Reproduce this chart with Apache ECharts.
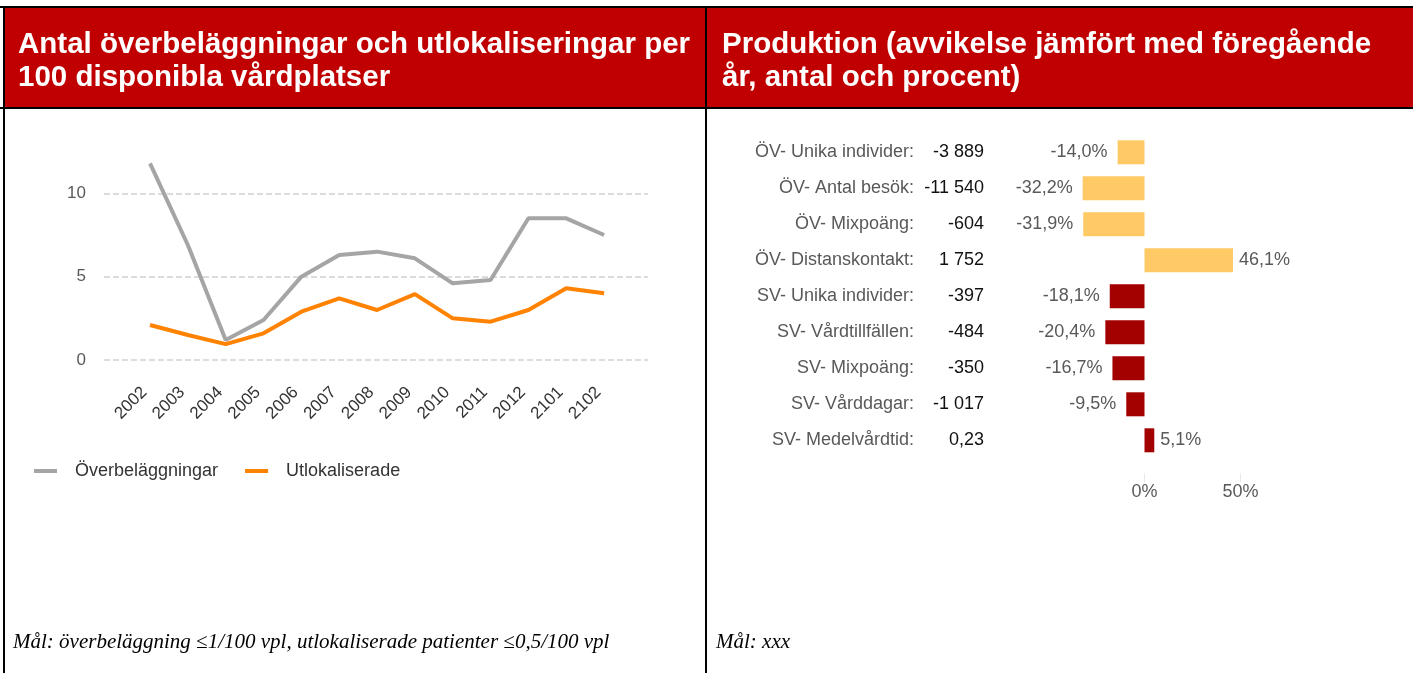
<!DOCTYPE html>
<html>
<head>
<meta charset="utf-8">
<script src="https://cdn.jsdelivr.net/npm/echarts@6/dist/echarts.min.js"></script>
<style>
  html, body { margin: 0; padding: 0; background: #fff; }
  #wrap { position: relative; width: 1413px; height: 673px; overflow: hidden; }
  #chart { position: absolute; left: 0; top: 0; width: 1413px; height: 673px; }
  .line { position: absolute; background: #000; }
  .head { position: absolute; top: 8px; height: 99px; background: #C00000; }
  .title { position: absolute; top: 26px; color: #fff; font: bold 29.5px/33px 'Liberation Sans', Arial, sans-serif; white-space: nowrap; }
  .note { position: absolute; top: 630px; font: italic 21px/22px 'Liberation Serif', 'Times New Roman', serif; color: #000; white-space: nowrap; }
</style>
</head>
<body>
<div id="wrap">
  <div id="chart"></div>
  <div class="head" style="left:5px;width:700px"></div>
  <div class="head" style="left:707px;width:706px"></div>
  <div class="line" style="left:0;top:6px;width:1413px;height:2px"></div>
  <div class="line" style="left:0;top:107px;width:1413px;height:2px"></div>
  <div class="line" style="left:3px;top:6px;width:2px;height:667px"></div>
  <div class="line" style="left:705px;top:6px;width:2px;height:667px"></div>
  <div class="title" style="left:18px">Antal överbeläggningar och utlokaliseringar per<br>100 disponibla vårdplatser</div>
  <div class="title" style="left:722px">Produktion (avvikelse jämfört med föregående<br>år, antal och procent)</div>
  <div class="note" style="left:13px">Mål: överbeläggning ≤1/100 vpl, utlokaliserade patienter ≤0,5/100 vpl</div>
  <div class="note" style="left:716px">Mål: xxx</div>
</div>
<script>
// vänster diagram
const years = ['2002', '2003', '2004', '2005', '2006', '2007', '2008', '2009', '2010', '2011', '2012', '2101', '2102']
const overbelaggningar = [11.8, 6.9, 1.2, 2.4, 5.0, 6.3, 6.5, 6.1, 4.6, 4.8, 8.5, 8.5, 7.5]
const utlokaliserade = [2.1, 1.5, 0.95, 1.6, 2.9, 3.7, 3.0, 3.95, 2.5, 2.3, 3.0, 4.3, 4.0]

// höger diagram
const kategorier = ['ÖV- Unika individer:', 'ÖV- Antal besök:', 'ÖV- Mixpoäng:', 'ÖV- Distanskontakt:',
  'SV- Unika individer:', 'SV- Vårdtillfällen:', 'SV- Mixpoäng:', 'SV- Vårddagar:', 'SV- Medelvårdtid:']
const antal = ['-3 889', '-11 540', '-604', '1 752', '-397', '-484', '-350', '-1 017', '0,23']
const procent = [-14.0, -32.2, -31.9, 46.1, -18.1, -20.4, -16.7, -9.5, 5.1]
const pctTicks = [0, 50]

const font = "'Liberation Sans', Arial, sans-serif"
const grey = '#595959'

let myChart = echarts.init(document.getElementById('chart'))

const idx = years.map((y, i) => i)
const toPts = arr => arr.map((v, i) => [i, v])

const barData = procent.map((v, i) => ({
  value: v,
  itemStyle: { color: kategorier[i].startsWith('ÖV') ? '#FFCA66' : '#A30000' },
  label: { position: v < 0 ? 'left' : 'right', distance: v < 0 ? 10 : 6 }
}))

const option = {
  animation: false,
  textStyle: { fontFamily: font },
  legend: {
    left: 29, top: 457,
    itemWidth: 23, itemHeight: 4, itemGap: 27,
    icon: 'rect',
    data: ['Överbeläggningar', 'Utlokaliserade'],
    textStyle: { fontSize: 18, color: '#333', fontFamily: font, padding: [0, 0, 0, 13] }
  },
  grid: [
    { left: 104, right: 765, top: 193.3, bottom: 313 },
    { left: 1048.5, right: 153.3, top: 134.3, bottom: 214.7 }
  ],
  xAxis: [
    {
      gridIndex: 0, type: 'value', min: -1.216, max: 13.16,
      axisLine: { show: false }, axisTick: { show: false }, splitLine: { show: false },
      axisLabel: {
        customValues: idx, rotate: 45, margin: 24, padding: [0, 8, 0, 0],
        fontSize: 17, color: '#333', fontFamily: font,
        formatter: v => years[v]
      }
    },
    {
      gridIndex: 1, type: 'value', min: -50, max: 60, offset: 15,
      axisLine: { show: false }, splitLine: { show: false },
      axisTick: { show: true, customValues: pctTicks, length: 9, lineStyle: { color: '#E8E8E8' } },
      axisLabel: {
        customValues: pctTicks, margin: 10,
        fontSize: 18, color: grey, fontFamily: font,
        formatter: v => v + '%'
      }
    }
  ],
  yAxis: [
    {
      gridIndex: 0, type: 'value', min: 0, max: 10, interval: 5,
      axisLine: { show: false }, axisTick: { show: false },
      splitLine: { lineStyle: { color: '#DCDCDC', width: 2, type: [6, 3] } },
      axisLabel: { margin: 18, fontSize: 17, color: grey, fontFamily: font }
    },
    {
      gridIndex: 1, type: 'category', inverse: true, data: kategorier,
      axisLine: { show: false }, axisTick: { show: false },
      axisLabel: {
        margin: 64.5,
        formatter: (name, i) => '{n|' + name + '}{v|' + antal[i] + '}',
        rich: {
          n: { fontSize: 18, color: grey, fontFamily: font },
          v: { fontSize: 18, color: '#111', fontFamily: font, width: 70, align: 'right' }
        }
      }
    }
  ],
  series: [
    {
      name: 'Överbeläggningar', type: 'line', xAxisIndex: 0, yAxisIndex: 0,
      data: toPts(overbelaggningar), clip: false, showSymbol: false, symbol: 'none',
      lineStyle: { color: '#A5A5A5', width: 4 }, itemStyle: { color: '#A5A5A5' }
    },
    {
      name: 'Utlokaliserade', type: 'line', xAxisIndex: 0, yAxisIndex: 0,
      data: toPts(utlokaliserade), clip: false, showSymbol: false, symbol: 'none',
      lineStyle: { color: '#FF8200', width: 4 }, itemStyle: { color: '#FF8200' }
    },
    {
      type: 'bar', xAxisIndex: 1, yAxisIndex: 1, barWidth: 24,
      data: barData,
      label: {
        show: true, fontSize: 18, color: grey, fontFamily: font,
        formatter: p => p.value.toFixed(1).replace('.', ',') + '%'
      }
    }
  ]
}

myChart.setOption(option)
</script>
</body>
</html>
